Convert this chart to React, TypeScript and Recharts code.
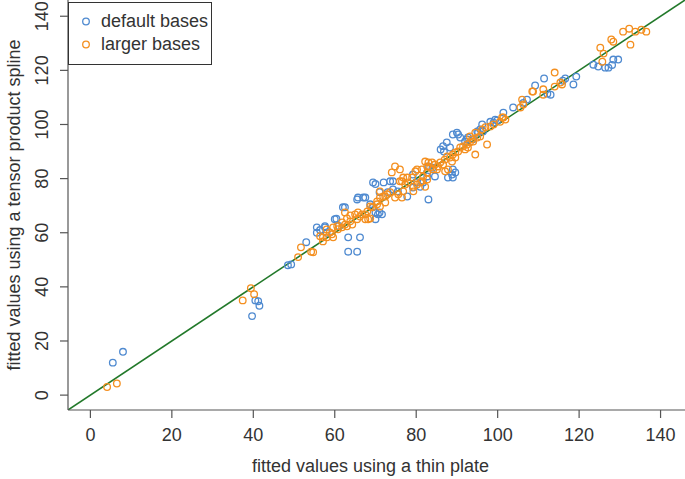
import React from "react";
import {
  ReferenceLine,
  Scatter,
  ScatterChart,
  XAxis,
  YAxis,
} from "recharts";

// fitted values: thin plate (x) vs tensor product spline (y)
const defaultBases = [
  [5.5, 12], [8, 16],
  [40.5, 35], [41.2, 34.7], [41.5, 33], [39.7, 29.2],
  [48.5, 48], [49.3, 48.3],
  [53, 56.5], [55.6, 60], [56.4, 61], [57.6, 62], [55.6, 62], [57.6, 62.4],
  [60, 65], [60.4, 65.2], [62, 69.4], [62.5, 69.4],
  [63.3, 58.3], [66.2, 58.3], [63.3, 53], [65.5, 53],
  [65.5, 72.3], [67, 73], [65.7, 73], [67.5, 73],
  [68.7, 70.5], [69.4, 69.4], [70, 67.5], [70.6, 66.8], [71.6, 66.8], [71, 67.5], [70, 65],
  [70, 78], [69.4, 78.6], [72, 78.6], [73.6, 79], [74.3, 79],
  [74.3, 76], [75.5, 75.3], [77.8, 73.4],
  [79.2, 76.7], [81, 77], [81.7, 78.6], [79.2, 81.5], [80.2, 78.6],
  [82.7, 82.3], [82.7, 80.8], [83, 72.3], [71, 75], [73, 75],
  [89, 96.3], [90, 97], [90.3, 96.3],
  [86.6, 92], [87.5, 93.4], [88.3, 91.5], [86, 90.8], [86.8, 90],
  [89, 83.4], [89.6, 82.3], [88.8, 81.5], [89, 80.4], [87.8, 80.4],
  [92, 93.7], [92.7, 95.2], [94, 94.5],
  [95.2, 97], [95.7, 98.2], [96.4, 97.4],
  [98.2, 101], [99, 100.7], [99.4, 101.8], [101.4, 104.4],
  [84, 84], [84.6, 80.8], [83, 84.5],
  [107.2, 109.2], [109.2, 114.4], [111.4, 117], [112.2, 111.4], [113, 111],
  [116, 116.2], [116.6, 117], [118.6, 114.8], [119.3, 117.7],
  [123.5, 122.1], [124.7, 121.4], [126.4, 121], [128.1, 122], [128.4, 124], [129.6, 124], [127.2, 121],
  [106.3, 108], [103.8, 106.3], [99.9, 101.5], [96.2, 100], [95, 97.4], [90.8, 95.2], [92.5, 94.5],
  [58, 60], [61, 62.5],
];

const largerBases = [
  [4.1, 3], [6.5, 4.3],
  [39.4, 39.5], [40.2, 37.3], [37.4, 35],
  [51, 51], [51.7, 54.6], [54.2, 53], [54.7, 52.8],
  [56.4, 58.7], [57.1, 56.8], [58.1, 58.3], [57.1, 58.3], [59.3, 59.4], [59.6, 58.3], [58.8, 60.1],
  [60.8, 61.3], [61.8, 62], [62.5, 63], [63, 62.4],
  [63.8, 64.2], [64.3, 63], [65.5, 65], [66.2, 66], [65, 66.8], [62.5, 67.5],
  [67.5, 66.8], [68, 67.9], [68.7, 69.7], [68.2, 65],
  [70.4, 71.6], [71.1, 73], [71.9, 73.4], [72.9, 74.2], [73.6, 75],
  [71.1, 69.7], [72.4, 71.2],
  [74.8, 73], [75.6, 74.2], [76.5, 73], [76.8, 75.3],
  [79, 80.4], [78, 78.6], [79.3, 77], [80.2, 77.8], [81, 78.6],
  [76.5, 79], [77.3, 77.8],
  [81.7, 80.8], [82.7, 82.3], [82.7, 79.7], [81.4, 79],
  [82.2, 86.3], [82.7, 84.5],
  [77.8, 80.4], [79.8, 82.7], [80.2, 83.4], [81.4, 83.4], [83, 86],
  [83.4, 84.1], [84.2, 83.4], [85.1, 83.4], [84.6, 85.2], [85.4, 84.5], [85.9, 86], [86.6, 85.2], [83.9, 86],
  [87.1, 82.7], [87.8, 83.4],
  [87.6, 88.2], [88.3, 87.8], [89, 88.9], [89.6, 89.7], [90.3, 90],
  [90.8, 91.5], [91.5, 91.9], [92, 90.8], [92.5, 92.6], [93.2, 93.4], [92.7, 91.5],
  [94, 93.7], [95, 95.2], [95.7, 95.6], [94.5, 88.9], [97.4, 92.6], [96.2, 98.2], [97, 99],
  [100.6, 101], [101.4, 102.6], [101.9, 101.8], [87, 87],
  [108.5, 112.2], [106, 109.2], [106.3, 107.4], [105.6, 106.3], [101.1, 102.6],
  [99, 100], [98.2, 99.3], [94.5, 97], [93.2, 95.6], [93.7, 94.5],
  [115.4, 115.5], [108.7, 112.2], [111.2, 113], [111.2, 111], [114, 119.2], [114, 114], [115.8, 114.8],
  [125.2, 128.4], [126, 126.2], [125.7, 123.2], [127.9, 131.4], [128.4, 130.6], [132.6, 129.5],
  [130.8, 134.3], [132.3, 135.4], [133.8, 134.3], [135.3, 135], [136.5, 134.3],
  [74, 82.3], [74.8, 84.5], [76, 83.4], [76.8, 80.4], [79.3, 75.3], [82.2, 77],
  [88.8, 86.3], [89.6, 87.8],
  [58, 61.2], [59.6, 62], [60.6, 62.4], [61.8, 63.8], [63, 65.3], [63.8, 66.4], [65.7, 67.5],
  [66.7, 66.8], [67.5, 65], [68.7, 65.3],
  [69.2, 69.4], [70.4, 70.5], [72.4, 73.4], [71.1, 75.3], [76, 79],
];

const axisTicks = [0, 20, 40, 60, 80, 100, 120, 140];
const axisDomain = [-5.5, 146];
const seriesNames = ["default bases", "larger bases"];

const BLUE = "#4f8ad0";
const ORANGE = "#f48f1f";
const GREEN = "#22792a";
const AXIS = "#555";
const FONT = "'Liberation Sans', Arial, sans-serif";

const toPoints = (rows: number[][]) => rows.map(([x, y]) => ({ x, y }));

const ring = (color: string) => (props: any) => (
  <circle cx={props.cx} cy={props.cy} r={3.3} fill="none" stroke={color} strokeWidth={1.3} />
);

const YTick = ({ x, y, payload }: any) => {
  const bx = x - 10;
  return (
    <text
      x={bx}
      y={y}
      transform={`rotate(-90 ${bx} ${y})`}
      textAnchor="middle"
      fontSize={18}
      fill="#333"
      fontFamily={FONT}
    >
      {payload.value}
    </text>
  );
};

const XTitle = ({ viewBox }: any) => (
  <text
    x={viewBox.x + viewBox.width / 2 - 6}
    y={viewBox.y + 62}
    textAnchor="middle"
    fontSize={18}
    fill="#333"
    fontFamily={FONT}
  >
    fitted values using a thin plate
  </text>
);

const YTitle = ({ viewBox }: any) => {
  const cx = viewBox.x + 20;
  const cy = viewBox.y + viewBox.height / 2;
  return (
    <text
      x={cx}
      y={cy}
      transform={`rotate(-90 ${cx} ${cy})`}
      textAnchor="middle"
      fontSize={18}
      fill="#333"
      fontFamily={FONT}
    >
      fitted values using a tensor product spline
    </text>
  );
};

const LegendBox = () => (
  <div
    style={{
      position: "absolute",
      left: 68,
      top: 2,
      border: "1px solid #333",
      width: 142,
      height: 61,
      background: "#fff",
      fontFamily: FONT,
      fontSize: 18,
      color: "#333",
      boxSizing: "content-box",
    }}
  >
    {seriesNames.map((name, i) => (
      <div key={name} style={{ display: "flex", alignItems: "center", height: 23, marginTop: i === 0 ? 7 : 0 }}>
        <svg width={32} height={23}>
          <circle cx={17} cy={11.5} r={3.3} fill="none" stroke={i === 0 ? BLUE : ORANGE} strokeWidth={1.3} />
        </svg>
        <span>{name}</span>
      </div>
    ))}
  </div>
);

export default function App() {
  return (
    <div style={{ position: "absolute", left: 0, top: 0, width: 685, height: 479, background: "#fff" }}>
      <ScatterChart width={685} height={479} margin={{ top: 0, right: 0, bottom: 0, left: 0 }}>
        <XAxis
          type="number"
          dataKey="x"
          domain={axisDomain}
          ticks={axisTicks}
          allowDataOverflow
          height={69}
          stroke={AXIS}
          strokeWidth={1.2}
          tickSize={8}
          tickMargin={10}
          tick={{ fontSize: 18, fill: "#333", fontFamily: FONT }}
          label={<XTitle />}
        />
        <YAxis
          type="number"
          dataKey="y"
          domain={axisDomain}
          ticks={axisTicks}
          allowDataOverflow
          width={68}
          stroke={AXIS}
          strokeWidth={1.2}
          tickSize={8}
          tickMargin={2}
          tick={<YTick />}
          label={<YTitle />}
        />
        <Scatter
          name={seriesNames[0]}
          data={toPoints(defaultBases)}
          shape={ring(BLUE)}
          isAnimationActive={false}
        />
        <Scatter
          name={seriesNames[1]}
          data={toPoints(largerBases)}
          shape={ring(ORANGE)}
          isAnimationActive={false}
        />
        <ReferenceLine
          segment={[
            { x: axisDomain[0], y: axisDomain[0] },
            { x: axisDomain[1], y: axisDomain[1] },
          ]}
          stroke={GREEN}
          strokeWidth={1.6}
          ifOverflow="hidden"
        />
      </ScatterChart>
      <LegendBox />
    </div>
  );
}
